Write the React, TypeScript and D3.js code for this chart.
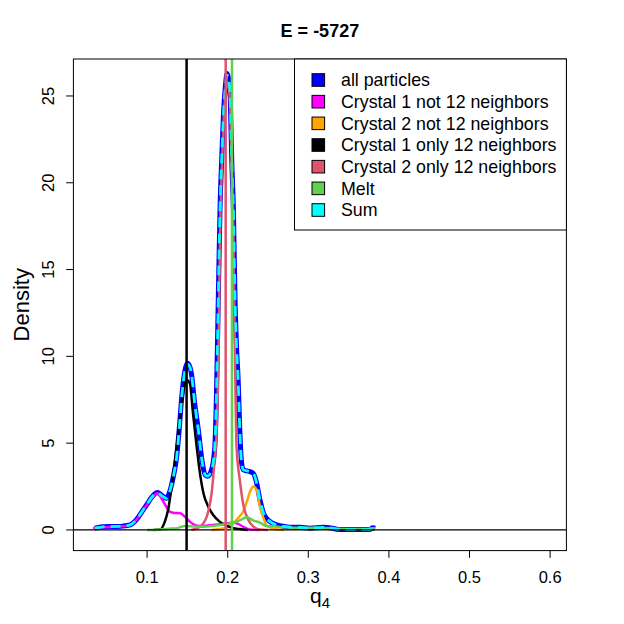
import React from "react";
import * as d3 from "d3";

// ---- data ----
const allQ = [0.035, 0.045, 0.06, 0.07, 0.079, 0.087, 0.095, 0.0995, 0.106, 0.113, 0.118, 0.124, 0.128, 0.1325, 0.1367, 0.14, 0.143, 0.147, 0.15, 0.153, 0.155, 0.159, 0.1636, 0.168, 0.172, 0.175, 0.18, 0.184, 0.186, 0.1876, 0.1905, 0.1925, 0.1946, 0.1972, 0.1992, 0.2015, 0.2032, 0.205, 0.207, 0.209, 0.211, 0.213, 0.215, 0.2173, 0.2194, 0.224, 0.2277, 0.2318, 0.236, 0.24, 0.2445, 0.2525, 0.261, 0.27, 0.281, 0.29, 0.302, 0.318, 0.33, 0.337, 0.36, 0.376, 0.38, 0.383];
const allD = [0.1, 0.18, 0.2, 0.22, 0.29, 0.61, 1.15, 1.45, 1.9, 2.15, 2.0, 1.82, 2.2, 3.07, 4.22, 5.9, 7.68, 9.2, 9.6, 9.4, 9.0, 7.3, 5.76, 4.03, 3.17, 3.1, 3.46, 4.8, 7.68, 11.5, 18.6, 21.3, 23.8, 25.6, 26.3, 25.9, 24.8, 21.3, 18.6, 13.5, 10.5, 8.6, 5.76, 3.84, 3.46, 3.4, 3.36, 3.26, 2.69, 1.73, 0.96, 0.48, 0.29, 0.2, 0.15, 0.15, 0.1, 0.15, 0.1, 0.03, 0.02, 0.02, 0.12, 0.1];

const sumQ = [0.035, 0.045, 0.06, 0.07, 0.079, 0.087, 0.095, 0.0995, 0.106, 0.113, 0.118, 0.124, 0.128, 0.1325, 0.1367, 0.14, 0.143, 0.147, 0.15, 0.153, 0.155, 0.159, 0.1636, 0.168, 0.172, 0.175, 0.18, 0.184, 0.186, 0.1876, 0.1905, 0.1925, 0.1946, 0.1972, 0.1992, 0.2015, 0.2032, 0.205, 0.207, 0.209, 0.211, 0.213, 0.215, 0.2173, 0.2194, 0.224, 0.2277, 0.2318, 0.236, 0.24, 0.2445, 0.2525, 0.261, 0.27, 0.281, 0.29, 0.302, 0.318, 0.33, 0.337, 0.36, 0.376, 0.38, 0.383];
const sumD = [0.1, 0.18, 0.2, 0.22, 0.29, 0.61, 1.15, 1.45, 1.9, 2.13, 1.98, 1.82, 2.2, 3.07, 4.22, 5.9, 7.68, 9.2, 9.55, 9.4, 9.0, 7.3, 5.76, 4.03, 3.17, 3.1, 3.46, 4.8, 7.68, 11.5, 18.6, 21.3, 23.8, 25.6, 26.2, 25.9, 24.8, 21.3, 18.6, 13.5, 10.5, 8.6, 5.76, 3.84, 3.46, 3.4, 3.36, 3.26, 2.69, 1.73, 0.96, 0.48, 0.29, 0.2, 0.15, 0.15, 0.1, 0.15, 0.1, 0.03, 0.02, 0.02, 0.12, 0.1];

const c1notQ = [0.033, 0.045, 0.062, 0.072, 0.079, 0.087, 0.0995, 0.106, 0.1127, 0.118, 0.123, 0.128, 0.134, 0.141, 0.147, 0.153, 0.159, 0.165, 0.175, 0.19, 0.2, 0.207, 0.213, 0.219, 0.225, 0.232, 0.24];
const c1notD = [0.1, 0.15, 0.2, 0.22, 0.29, 0.61, 1.44, 1.85, 2.11, 1.8, 1.4, 1.06, 0.98, 0.96, 0.75, 0.48, 0.29, 0.22, 0.25, 0.33, 0.38, 0.42, 0.35, 0.19, 0.05, 0.01, 0.0];

const c2notQ = [0.18, 0.19, 0.2, 0.205, 0.211, 0.215, 0.219, 0.2235, 0.2277, 0.2318, 0.236, 0.24, 0.2445, 0.248, 0.2545, 0.262, 0.27];
const c2notD = [0.0, 0.05, 0.15, 0.3, 0.58, 0.8, 1.05, 1.6, 2.2, 2.5, 2.3, 1.34, 0.67, 0.29, 0.1, 0.02, 0.0];

const c1onlyQ = [0.108, 0.116, 0.122, 0.126, 0.1305, 0.1367, 0.143, 0.147, 0.149, 0.153, 0.157, 0.1615, 0.1656, 0.17, 0.176, 0.182, 0.19, 0.199, 0.207, 0.215, 0.225];
const c1onlyD = [0.0, 0.02, 0.48, 1.15, 2.5, 4.8, 7.3, 8.45, 8.64, 8.45, 6.7, 4.8, 3.26, 2.1, 1.34, 0.86, 0.48, 0.23, 0.1, 0.05, 0.0];

const c2onlyQ = [0.155, 0.1656, 0.17, 0.174, 0.177, 0.18, 0.1834, 0.1863, 0.1884, 0.1905, 0.1925, 0.1946, 0.1972, 0.1992, 0.2015, 0.2032, 0.205, 0.207, 0.209, 0.211, 0.215, 0.219, 0.2256, 0.232, 0.24, 0.25];
const c2onlyD = [0.0, 0.19, 0.4, 0.77, 1.3, 2.1, 3.84, 5.76, 9.6, 17.0, 20.5, 23.2, 25.2, 25.8, 25.4, 24.2, 20.8, 17.5, 10.0, 4.8, 2.88, 1.54, 0.58, 0.19, 0.03, 0.0];

const meltQ = [0.1, 0.116, 0.13, 0.137, 0.147, 0.16, 0.17, 0.18, 0.19, 0.2, 0.207, 0.215, 0.2236, 0.232, 0.24, 0.248, 0.26, 0.27, 0.29, 0.31, 0.33, 0.345, 0.37, 0.38, 0.383];
const meltD = [0.0, 0.03, 0.08, 0.1, 0.23, 0.2, 0.19, 0.22, 0.29, 0.35, 0.42, 0.55, 0.73, 0.54, 0.42, 0.23, 0.2, 0.15, 0.12, 0.12, 0.1, 0.05, 0.05, 0.1, 0.08];

const vlineQ = [0.149, 0.1975, 0.2053];
const vlineColors = ["#000000", "#DF536B", "#61D04F"];

const xTicks = [0.1, 0.2, 0.3, 0.4, 0.5, 0.6];
const yTicks = [0, 5, 10, 15, 20, 25];

const legendLabels = [
  "all particles",
  "Crystal 1 not 12 neighbors",
  "Crystal 2 not 12 neighbors",
  "Crystal 1 only 12 neighbors",
  "Crystal 2 only 12 neighbors",
  "Melt",
  "Sum",
];
const legendColors = ["#0000FF", "#FF00FF", "#FFA500", "#000000", "#DF536B", "#61D04F", "#00FFFF"];

const titleText = "E = -5727";

// ---- layout ----
const W = 624;
const H = 624;
const L = 73.4;
const R = 566.4;
const T = 59;
const B = 550.6;
const FONT = "'Liberation Sans', Arial, Helvetica, sans-serif";

export default function App() {
  const x = d3.scaleLinear().domain([0.00856, 0.6202]).range([L, R]);
  const y = d3.scaleLinear().domain([-1.19, 27.13]).range([B, T]);

  const line = (qs: number[], ds: number[]) =>
    d3
      .line<number>()
      .x((_, i) => x(qs[i]))
      .y((d) => y(d))
      .curve(d3.curveMonotoneX)(ds) || "";

  const series = [
    { q: allQ, d: allD, color: "#0000FF", w: 5, dash: undefined as string | undefined },
    { q: c1notQ, d: c1notD, color: "#FF00FF", w: 2.5, dash: undefined },
    { q: c2notQ, d: c2notD, color: "#FFA500", w: 2.5, dash: undefined },
    { q: c1onlyQ, d: c1onlyD, color: "#000000", w: 2.5, dash: undefined },
    { q: c2onlyQ, d: c2onlyD, color: "#DF536B", w: 2.5, dash: undefined },
    { q: meltQ, d: meltD, color: "#61D04F", w: 2.5, dash: undefined },
    { q: sumQ, d: sumD, color: "#00FFFF", w: 2.8, dash: "10 6" },
  ];

  const rowY0 = 80;
  const rowStep = 21.67;

  return (
    <svg
      width={W}
      height={H}
      viewBox={`0 0 ${W} ${H}`}
      style={{ position: "absolute", left: 0, top: 0, background: "#fff" }}
      fontFamily={FONT}
    >
      <rect x={0} y={0} width={W} height={H} fill="#fff" />
      <defs>
        <clipPath id="plotclip">
          <rect x={L} y={T} width={R - L} height={B - T} />
        </clipPath>
      </defs>

      <g clipPath="url(#plotclip)">
        {series.map((s, i) => (
          <path
            key={i}
            d={line(s.q, s.d)}
            fill="none"
            stroke={s.color}
            strokeWidth={s.w}
            strokeDasharray={s.dash}
            strokeLinejoin="round"
          />
        ))}
        <line x1={L} x2={R} y1={y(0)} y2={y(0)} stroke="#000" strokeWidth={1.3} />
        {vlineQ.map((q, i) => (
          <line key={i} x1={x(q)} x2={x(q)} y1={T} y2={B} stroke={vlineColors[i]} strokeWidth={2.5} />
        ))}
      </g>

      {/* plot box */}
      <rect x={L} y={T} width={R - L} height={B - T} fill="none" stroke="#000" strokeWidth={1} />

      {/* x axis */}
      {xTicks.map((t) => (
        <g key={t}>
          <line x1={x(t)} x2={x(t)} y1={B} y2={B + 7.2} stroke="#000" strokeWidth={1} />
          <text x={x(t)} y={582.5} fontSize={16.5} textAnchor="middle" fill="#000">
            {t.toFixed(1)}
          </text>
        </g>
      ))}

      {/* y axis */}
      {yTicks.map((t) => (
        <g key={t}>
          <line x1={L} x2={L - 7.2} y1={y(t)} y2={y(t)} stroke="#000" strokeWidth={1} />
          <text
            transform={`translate(${54},${y(t)}) rotate(-90)`}
            fontSize={16.5}
            textAnchor="middle"
            fill="#000"
          >
            {t}
          </text>
        </g>
      ))}

      {/* axis titles */}
      <text transform={`translate(29,${(T + B) / 2}) rotate(-90)`} fontSize={22} textAnchor="middle" fill="#000">
        Density
      </text>
      <text x={320} y={603} fontSize={21} textAnchor="middle" fill="#000">
        q
        <tspan fontSize={15} dy={5}>
          4
        </tspan>
      </text>

      {/* title */}
      <text x={(L + R) / 2} y={37} fontSize={18} fontWeight="bold" textAnchor="middle" fill="#000">
        {titleText}
      </text>

      {/* legend */}
      <rect x={294.5} y={T} width={R - 294.5} height={171} fill="#fff" stroke="#000" strokeWidth={1} />
      {legendLabels.map((lab, i) => (
        <g key={lab}>
          <rect
            x={312}
            y={rowY0 + i * rowStep - 6.3}
            width={12.6}
            height={12.6}
            fill={legendColors[i]}
            stroke="#000"
            strokeWidth={1}
          />
          <text x={341} y={rowY0 + i * rowStep + 6.3} fontSize={17.8} fill="#000">
            {lab}
          </text>
        </g>
      ))}
    </svg>
  );
}
